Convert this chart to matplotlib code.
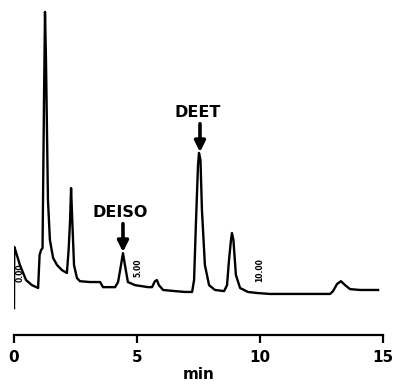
import matplotlib.pyplot as plt

# chromatogram trace (time in min, detector signal in % of largest peak)
time = [0.00, 0.01, 0.08, 0.24, 0.49, 0.73, 0.98, 1.04, 1.10, 1.16, 1.22, 1.26, 1.30,
        1.38, 1.46, 1.59, 1.75, 1.95, 2.15, 2.22, 2.28, 2.32, 2.36, 2.44, 2.56, 2.68,
        3.09, 3.50, 3.62, 4.11, 4.23, 4.35, 4.43, 4.51, 4.63, 4.92, 5.45, 5.61, 5.73,
        5.81, 5.89, 6.06, 6.54, 6.95, 7.24, 7.32, 7.40, 7.48, 7.52, 7.58, 7.64, 7.76,
        7.93, 8.17, 8.54, 8.66, 8.74, 8.82, 8.86, 8.92, 9.02, 9.19, 9.51, 9.92, 10.41,
        11.22, 12.03, 12.85, 12.97, 13.13, 13.29, 13.46, 13.66, 14.07, 14.80]
signal = [-4.6, 17.0, 15.2, 10.6, 5.3, 3.5, 2.5, 14.1, 15.9, 16.6, 68.9, 100.0, 83.0,
          33.6, 19.4, 13.1, 10.6, 8.8, 7.8, 15.9, 26.5, 37.8, 28.3, 10.6, 6.0, 4.9,
          4.6, 4.6, 2.8, 2.8, 4.6, 10.6, 14.8, 10.6, 4.6, 3.5, 2.8, 2.8, 4.9,
          5.3, 3.5, 1.8, 1.4, 1.1, 1.1, 5.3, 26.5, 45.9, 50.2, 47.7, 30.0, 10.6,
          3.5, 1.8, 1.4, 3.5, 12.4, 19.4, 21.9, 19.4, 7.1, 2.5, 1.1, 0.7, 0.4,
          0.4, 0.4, 0.4, 1.4, 3.9, 4.9, 3.5, 2.1, 1.8, 1.8]

# labelled peaks: name, retention time, peak top
peak_names = ['DEISO', 'DEET']
peak_times = [4.43, 7.56]
peak_tops = [15.2, 50.5]

# integrator time marks printed on the trace
mark_labels = ['0.00', '5.00', '10.00']
mark_times = [0.24, 5.04, 10.0]
mark_levels = [7.8, 9.5, 8.8]

ticks = [0, 5, 10, 15]

fig = plt.figure(figsize=(3.95, 3.84), dpi=100)
ax = fig.add_axes([14 / 395, 49 / 384, 369 / 395, 335 / 384])

ax.plot(time, signal, color='black', lw=1.7, solid_joinstyle='round')

for name, t, top in zip(peak_names, peak_times, peak_tops):
    ax.annotate('', xy=(t, top), xytext=(t, top + 10),
                arrowprops=dict(arrowstyle='-|>', lw=2.6, color='black',
                                mutation_scale=16, shrinkA=0, shrinkB=0))
    ax.text(t - 0.1, top + 11.3, name, ha='center', va='bottom',
            fontsize=11.5, fontweight='bold')

for lab, t, lev in zip(mark_labels, mark_times, mark_levels):
    ax.text(t, lev, lab, rotation=90, ha='center', va='center',
            fontsize=5.5, fontweight='bold')

ax.set_xlim(0, 15)
ax.set_ylim(-14.1, 104.2)
ax.set_xticks(ticks)
ax.set_xticklabels([str(t) for t in ticks], fontsize=11, fontweight='bold')
ax.set_yticks([])
ax.set_xlabel('min', fontsize=11, fontweight='bold', labelpad=1)
for side in ['left', 'right', 'top']:
    ax.spines[side].set_visible(False)
ax.spines['bottom'].set_linewidth(1.6)
ax.tick_params(axis='x', direction='out', length=6, width=1.6, pad=5)

fig.savefig('out.png', dpi=100)
